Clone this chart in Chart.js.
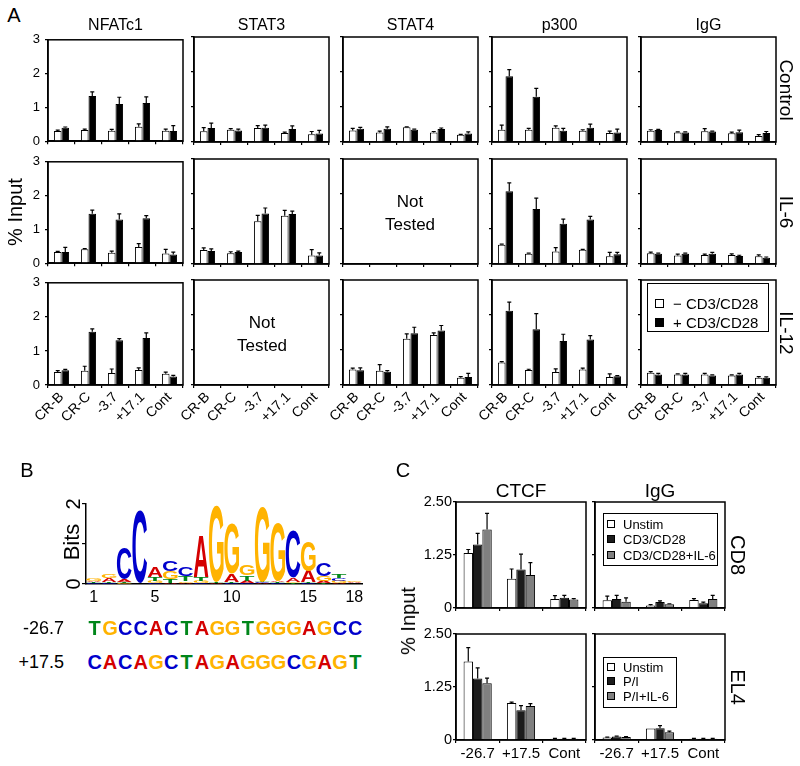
<!DOCTYPE html>
<html>
<head>
<meta charset="utf-8">
<script src="https://cdn.jsdelivr.net/npm/chart.js@4.4.1/dist/chart.umd.min.js"></script>
<style>
  body { margin: 0; background: #fff; }
  #fig { position: relative; width: 800px; height: 766px; overflow: hidden; background: #fff;
         font-family: "Liberation Sans", Arial, sans-serif; color: #000; }
  .box { position: absolute; }
  .lbl { position: absolute; white-space: nowrap; line-height: 1; }
  .legend { position: absolute; border: 1.5px solid #000; box-sizing: border-box; }
  .sq { position: absolute; border: 1px solid #000; box-sizing: border-box; }
</style>
</head>
<body>
<div id="fig"></div>
<script>
// ---------- Panel A data ----------
const aCategories = ['CR-B', 'CR-C', '-3.7', '+17.1', 'Cont'];
const aFactors = ['NFATc1', 'STAT3', 'STAT4', 'p300', 'IgG'];
const aConditions = ['Control', 'IL-6', 'IL-12'];
const aYTicks = [0, 1, 2, 3];
const aYLabels = ['0', '1', '2', '3'];
const aSeries = ['\u2212 CD3/CD28', '+ CD3/CD28'];

// Control
const nfatc1CtrlMinus = [0.30, 0.33, 0.31, 0.43, 0.31];
const nfatc1CtrlMinusErr = [0.03, 0.03, 0.04, 0.08, 0.05];
const nfatc1CtrlPlus = [0.40, 1.34, 1.10, 1.13, 0.30];
const nfatc1CtrlPlusErr = [0.02, 0.12, 0.20, 0.18, 0.16];
const stat3CtrlMinus = [0.31, 0.35, 0.40, 0.26, 0.22];
const stat3CtrlMinusErr = [0.10, 0.03, 0.07, 0.02, 0.08];
const stat3CtrlPlus = [0.40, 0.33, 0.41, 0.37, 0.24];
const stat3CtrlPlusErr = [0.14, 0.04, 0.07, 0.09, 0.09];
const stat4CtrlMinus = [0.33, 0.27, 0.42, 0.27, 0.21];
const stat4CtrlMinusErr = [0.06, 0.04, 0.01, 0.03, 0.01];
const stat4CtrlPlus = [0.38, 0.38, 0.35, 0.37, 0.24];
const stat4CtrlPlusErr = [0.04, 0.05, 0.02, 0.03, 0.05];
const p300CtrlMinus = [0.35, 0.35, 0.41, 0.32, 0.26];
const p300CtrlMinusErr = [0.13, 0.04, 0.05, 0.03, 0.05];
const p300CtrlPlus = [1.88, 1.29, 0.32, 0.41, 0.27];
const p300CtrlPlusErr = [0.19, 0.24, 0.07, 0.10, 0.10];
const iggCtrlMinus = [0.32, 0.27, 0.31, 0.25, 0.17];
const iggCtrlMinusErr = [0.03, 0.02, 0.07, 0.03, 0.04];
const iggCtrlPlus = [0.34, 0.27, 0.30, 0.28, 0.26];
const iggCtrlPlusErr = [0.02, 0.02, 0.01, 0.06, 0.04];

// IL-6
const nfatc1Il6Minus = [0.33, 0.41, 0.31, 0.48, 0.29];
const nfatc1Il6MinusErr = [0.02, 0.02, 0.05, 0.10, 0.12];
const nfatc1Il6Plus = [0.33, 1.46, 1.29, 1.33, 0.26];
const nfatc1Il6PlusErr = [0.14, 0.11, 0.17, 0.08, 0.07];
const stat3Il6Minus = [0.40, 0.31, 1.22, 1.38, 0.24];
const stat3Il6MinusErr = [0.06, 0.04, 0.17, 0.15, 0.17];
const stat3Il6Plus = [0.37, 0.34, 1.44, 1.43, 0.24];
const stat3Il6PlusErr = [0.06, 0.03, 0.16, 0.08, 0.08];
const p300Il6Minus = [0.55, 0.29, 0.36, 0.41, 0.22];
const p300Il6MinusErr = [0.02, 0.02, 0.11, 0.01, 0.11];
const p300Il6Plus = [2.08, 1.57, 1.15, 1.27, 0.28];
const p300Il6PlusErr = [0.24, 0.31, 0.13, 0.09, 0.05];
const iggIl6Minus = [0.31, 0.24, 0.26, 0.26, 0.22];
const iggIl6MinusErr = [0.03, 0.04, 0.02, 0.03, 0.04];
const iggIl6Plus = [0.29, 0.29, 0.29, 0.23, 0.18];
const iggIl6PlusErr = [0.02, 0.02, 0.04, 0.02, 0.02];

// IL-12
const nfatc1Il12Minus = [0.38, 0.42, 0.35, 0.44, 0.33];
const nfatc1Il12MinusErr = [0.04, 0.13, 0.12, 0.06, 0.05];
const nfatc1Il12Plus = [0.43, 1.56, 1.31, 1.38, 0.25];
const nfatc1Il12PlusErr = [0.03, 0.09, 0.05, 0.15, 0.03];
const stat4Il12Minus = [0.44, 0.41, 1.32, 1.43, 0.21];
const stat4Il12MinusErr = [0.04, 0.17, 0.14, 0.06, 0.03];
const stat4Il12Plus = [0.42, 0.38, 1.48, 1.56, 0.23];
const stat4Il12PlusErr = [0.07, 0.03, 0.17, 0.14, 0.10];
const p300Il12Minus = [0.64, 0.43, 0.37, 0.44, 0.23];
const p300Il12MinusErr = [0.03, 0.02, 0.09, 0.04, 0.09];
const p300Il12Plus = [2.12, 1.59, 1.26, 1.30, 0.25];
const p300Il12PlusErr = [0.25, 0.45, 0.19, 0.11, 0.02];
const iggIl12Minus = [0.35, 0.30, 0.30, 0.27, 0.21];
const iggIl12MinusErr = [0.03, 0.02, 0.03, 0.02, 0.03];
const iggIl12Plus = [0.30, 0.30, 0.27, 0.30, 0.21];
const iggIl12PlusErr = [0.03, 0.03, 0.02, 0.03, 0.02];

// ---------- Panel B data ----------
const logoXTicks = [1, 5, 10, 15, 18];
const logoYTicks = [0, 1, 2];
const logoYLabels = ['0', '', '2'];
const logoBases = ['A', 'C', 'G', 'T'];
// information (bits) per base at positions 1..18
const logoA = [0.03, 0.08, 0.06, 0.01, 0.26, 0.03, 0.03, 1.05, 0.02, 0.20, 0.05, 0.02, 0.04, 0.10, 0.28, 0.05, 0.03, 0.02];
const logoC = [0.02, 0.03, 0.78, 1.80, 0.02, 0.27, 0.22, 0.02, 0.01, 0.02, 0.03, 0.02, 0.02, 1.17, 0.02, 0.32, 0.07, 0.01];
const logoG = [0.05, 0.09, 0.03, 0.01, 0.06, 0.20, 0.04, 0.05, 1.90, 1.25, 0.27, 1.86, 1.46, 0.03, 0.77, 0.12, 0.05, 0.03];
const logoT = [0.02, 0.03, 0.03, 0.01, 0.09, 0.10, 0.12, 0.10, 0.02, 0.03, 0.14, 0.02, 0.03, 0.02, 0.02, 0.03, 0.08, 0.01];
const seqNames = ['-26.7', '+17.5'];
const seqMinus267 = 'TGCCACTAGGTGGGAGCC';
const seqPlus175 = 'CACAGCTAGAGGGCGAGT';

// ---------- Panel C data ----------
const cCategories = ['-26.7', '+17.5', 'Cont'];
const cYTicks = [0, 1.25, 2.5];
const cYLabels = ['0', '1.25', '2.50'];
const cd8Series = ['Unstim', 'CD3/CD28', 'CD3/CD28+IL-6'];
const el4Series = ['Unstim', 'P/I', 'P/I+IL-6'];

const ctcfCd8Unstim = [1.30, 0.69, 0.21];
const ctcfCd8UnstimErr = [0.08, 0.23, 0.08];
const ctcfCd8Stim = [1.50, 0.91, 0.24];
const ctcfCd8StimErr = [0.26, 0.36, 0.06];
const ctcfCd8Il6 = [1.85, 0.78, 0.20];
const ctcfCd8Il6Err = [0.38, 0.29, 0.02];
const iggCd8Unstim = [0.18, 0.06, 0.19];
const iggCd8UnstimErr = [0.10, 0.02, 0.03];
const iggCd8Stim = [0.21, 0.14, 0.11];
const iggCd8StimErr = [0.09, 0.03, 0.03];
const iggCd8Il6 = [0.15, 0.09, 0.21];
const iggCd8Il6Err = [0.09, 0.01, 0.09];

const ctcfEl4Unstim = [1.85, 0.875, 0.03];
const ctcfEl4UnstimErr = [0.33, 0.02, 0.01];
const ctcfEl4Pi = [1.45, 0.70, 0.03];
const ctcfEl4PiErr = [0.25, 0.11, 0.01];
const ctcfEl4PiIl6 = [1.34, 0.80, 0.03];
const ctcfEl4PiIl6Err = [0.12, 0.06, 0.01];
const iggEl4Unstim = [0.06, 0.27, 0.03];
const iggEl4UnstimErr = [0.01, 0.00, 0.01];
const iggEl4Pi = [0.08, 0.28, 0.03];
const iggEl4PiErr = [0.01, 0.06, 0.01];
const iggEl4PiIl6 = [0.07, 0.18, 0.03];
const iggEl4PiIl6Err = [0.01, 0.03, 0.01];

// ---------- setup ----------
const FONT = '"Liberation Sans", Arial, sans-serif';
Chart.defaults.font.family = FONT;
Chart.defaults.color = '#000';
Chart.defaults.animation = false;
const fig = document.getElementById('fig');

const baseColors = { A: '#d40000', C: '#0000cc', G: '#ffb300', T: '#00861a' };
const aColors = ['#ffffff', '#000000'];
const cColors = ['#ffffff', '#1c1c1c', '#808080'];

// draws the box round each plot area
const frame = {
    id: 'frame',
    afterDatasetsDraw(chart) {
        const a = chart.chartArea, ctx = chart.ctx;
        ctx.save();
        ctx.lineWidth = 1.5;
        ctx.strokeStyle = '#000';
        ctx.strokeRect(a.left, a.top, a.right - a.left, a.bottom - a.top);
        ctx.restore();
    }
};

// upward error bars with a small cap
const errorBars = {
    id: 'errorBars',
    afterDatasetsDraw(chart) {
        const ctx = chart.ctx, ys = chart.scales.y;
        ctx.save();
        ctx.strokeStyle = '#000';
        ctx.lineWidth = 1.2;
        chart.data.datasets.forEach((ds, i) => {
            chart.getDatasetMeta(i).data.forEach((bar, j) => {
                const v = ds.data[j], e = ds.errors[j];
                if (v == null || !e) return;
                const top = ys.getPixelForValue(v + e);
                ctx.beginPath();
                ctx.moveTo(bar.x, bar.y);
                ctx.lineTo(bar.x, top);
                ctx.moveTo(bar.x - 2, top);
                ctx.lineTo(bar.x + 2, top);
                ctx.stroke();
            });
        });
        ctx.restore();
    }
};

function addText(txt, x, y, size, rot, anchor) {
    const el = document.createElement('div');
    el.className = 'lbl';
    el.textContent = txt;
    el.style.left = x + 'px';
    el.style.top = y + 'px';
    el.style.fontSize = size + 'px';
    const tx = anchor === 'right' ? '-100%' : (anchor === 'left' ? '0' : '-50%');
    el.style.transform = 'translate(' + tx + ',-50%)' + (rot ? ' rotate(' + rot + 'deg)' : '');
    fig.appendChild(el);
    return el;
}

function addLegend(left, top, right, bottom, items, rowsY, sqX, sqSize, textX, size) {
    const box = document.createElement('div');
    box.className = 'legend';
    box.style.left = left + 'px';
    box.style.top = top + 'px';
    box.style.width = (right - left) + 'px';
    box.style.height = (bottom - top) + 'px';
    fig.appendChild(box);
    items.forEach((it, i) => {
        const sq = document.createElement('div');
        sq.className = 'sq';
        sq.style.left = sqX + 'px';
        sq.style.top = (rowsY[i] - sqSize / 2) + 'px';
        sq.style.width = sqSize + 'px';
        sq.style.height = sqSize + 'px';
        sq.style.background = it.color;
        fig.appendChild(sq);
        addText(it.label, textX, rowsY[i], size, 0, 'left');
    });
}

function makeSets(names, colors, values, errors) {
    return names.map((n, i) => ({
        label: n,
        data: values ? values[i] : [],
        errors: errors ? errors[i] : [],
        backgroundColor: colors[i],
        borderColor: '#000',
        borderWidth: 1
    }));
}

function barChart(o) {
    const padT = 10, padR = 6;
    const div = document.createElement('div');
    div.className = 'box';
    div.style.left = (o.left - o.yW) + 'px';
    div.style.top = (o.top - padT) + 'px';
    div.style.width = (o.yW + o.w + padR) + 'px';
    div.style.height = (padT + o.h + o.xH) + 'px';
    const cv = document.createElement('canvas');
    div.appendChild(cv);
    fig.appendChild(div);
    return new Chart(cv, {
        type: 'bar',
        data: { labels: o.labels, datasets: o.datasets },
        options: {
            responsive: true,
            maintainAspectRatio: false,
            events: [],
            layout: { padding: { top: padT, right: padR, left: 0, bottom: 0 } },
            plugins: { legend: { display: false }, tooltip: { enabled: false } },
            datasets: { bar: { categoryPercentage: o.catPct, barPercentage: 1 } },
            scales: {
                x: {
                    grid: { offset: true, drawOnChartArea: false, tickLength: 3, color: '#000', lineWidth: 1.2 },
                    border: { color: '#000', width: 1.5 },
                    ticks: {
                        display: o.showX, autoSkip: false, color: '#000',
                        font: { size: o.xFont }, minRotation: o.rot, maxRotation: o.rot, padding: o.xPad
                    },
                    afterFit(s) { s.height = o.xH; }
                },
                y: {
                    min: 0, max: o.yMax,
                    afterBuildTicks(s) { s.ticks = o.yTicks.map(v => ({ value: v })); },
                    grid: { drawOnChartArea: false, tickLength: 3, color: '#000', lineWidth: 1.2 },
                    border: { color: '#000', width: 1.5 },
                    ticks: {
                        display: o.showY, color: '#000', font: { size: o.yFont }, padding: o.yPad,
                        callback: (v, i) => o.yLabels[i]
                    },
                    afterFit(s) { s.width = o.yW; }
                }
            }
        },
        plugins: [errorBars, frame]
    });
}

// ---------- Panel A ----------
const aGrid = [
    [
        [[nfatc1CtrlMinus, nfatc1CtrlPlus], [nfatc1CtrlMinusErr, nfatc1CtrlPlusErr]],
        [[stat3CtrlMinus, stat3CtrlPlus], [stat3CtrlMinusErr, stat3CtrlPlusErr]],
        [[stat4CtrlMinus, stat4CtrlPlus], [stat4CtrlMinusErr, stat4CtrlPlusErr]],
        [[p300CtrlMinus, p300CtrlPlus], [p300CtrlMinusErr, p300CtrlPlusErr]],
        [[iggCtrlMinus, iggCtrlPlus], [iggCtrlMinusErr, iggCtrlPlusErr]]
    ],
    [
        [[nfatc1Il6Minus, nfatc1Il6Plus], [nfatc1Il6MinusErr, nfatc1Il6PlusErr]],
        [[stat3Il6Minus, stat3Il6Plus], [stat3Il6MinusErr, stat3Il6PlusErr]],
        null,
        [[p300Il6Minus, p300Il6Plus], [p300Il6MinusErr, p300Il6PlusErr]],
        [[iggIl6Minus, iggIl6Plus], [iggIl6MinusErr, iggIl6PlusErr]]
    ],
    [
        [[nfatc1Il12Minus, nfatc1Il12Plus], [nfatc1Il12MinusErr, nfatc1Il12PlusErr]],
        null,
        [[stat4Il12Minus, stat4Il12Plus], [stat4Il12MinusErr, stat4Il12PlusErr]],
        [[p300Il12Minus, p300Il12Plus], [p300Il12MinusErr, p300Il12PlusErr]],
        [[iggIl12Minus, iggIl12Plus], [iggIl12MinusErr, iggIl12PlusErr]]
    ]
];
const aColLeft = [48, 194, 343, 492, 641];
const aRowTop = [37, 159, 280];
const aW = 135, aH = 105;

aGrid.forEach((row, r) => {
    row.forEach((cell, c) => {
        const last = r === aGrid.length - 1;
        barChart({
            left: aColLeft[c], top: aRowTop[r], w: aW, h: aH,
            yW: 40, xH: last ? 60 : 12,
            labels: aCategories,
            datasets: makeSets(aSeries, aColors, cell ? cell[0] : null, cell ? cell[1] : null),
            catPct: 0.56, yMax: 3, yTicks: aYTicks, yLabels: aYLabels,
            showY: c === 0, yFont: 13, yPad: 5,
            showX: last, xFont: 14, rot: 45, xPad: 1
        });
    });
});

addText('A', 14, 15, 20);
aFactors.forEach((f, c) => addText(f, aColLeft[c] + aW / 2, 25, 16));
aConditions.forEach((n, r) => addText(n, 786, aRowTop[r] + aH / 2, 19, 90));
addText('% Input', 15, 212, 20, -90);
[[410, 213], [262, 334]].forEach(p => {
    const el = addText('', p[0], p[1], 17);
    el.innerHTML = 'Not<br>Tested';
    el.style.textAlign = 'center';
    el.style.lineHeight = '23px';
});
addLegend(647, 283, 769, 332,
    aSeries.map((s, i) => ({ label: s, color: aColors[i] })),
    [303, 322], 655, 9, 673, 15);

// ---------- Panel B (sequence logo) ----------
function drawGlyph(ctx, ch, color, x0, y0, w, h) {
    if (h < 0.4) return;
    ctx.save();
    ctx.font = 'bold 100px ' + FONT;
    const m = ctx.measureText(ch);
    const gw = m.actualBoundingBoxLeft + m.actualBoundingBoxRight;
    const gh = m.actualBoundingBoxAscent + m.actualBoundingBoxDescent;
    ctx.translate(x0, y0);
    ctx.scale(w / gw, h / gh);
    ctx.fillStyle = color;
    ctx.textAlign = 'left';
    ctx.textBaseline = 'alphabetic';
    ctx.fillText(ch, m.actualBoundingBoxLeft, m.actualBoundingBoxAscent);
    ctx.restore();
}

const logoLetters = {
    id: 'logoLetters',
    afterDatasetsDraw(chart) {
        const ctx = chart.ctx, xs = chart.scales.x, ys = chart.scales.y;
        const heights = [logoA, logoC, logoG, logoT];
        const w = xs.getPixelForValue(1.5) - xs.getPixelForValue(0.5);
        for (let i = 0; i < logoA.length; i++) {
            const stack = logoBases.map((b, k) => ({ ch: b, h: heights[k][i] }))
                .sort((p, q) => p.h - q.h);
            const xc = xs.getPixelForValue(i + 1);
            let cum = 0;
            stack.forEach(s => {
                const yb = ys.getPixelForValue(cum), yt = ys.getPixelForValue(cum + s.h);
                drawGlyph(ctx, s.ch, baseColors[s.ch], xc - w / 2 + 0.3, yt, w - 0.6, yb - yt);
                cum += s.h;
            });
        }
    }
};

(function () {
    const left = 86, top = 502, w = 276, h = 82, yW = 30, padT = 12, padR = 8, xH = 26;
    const div = document.createElement('div');
    div.className = 'box';
    div.style.left = (left - yW) + 'px';
    div.style.top = (top - padT) + 'px';
    div.style.width = (yW + w + padR) + 'px';
    div.style.height = (padT + h + xH) + 'px';
    const cv = document.createElement('canvas');
    div.appendChild(cv);
    fig.appendChild(div);
    new Chart(cv, {
        type: 'scatter',
        data: { datasets: [] },
        options: {
            responsive: true, maintainAspectRatio: false, events: [],
            layout: { padding: { top: padT, right: padR, left: 0, bottom: 0 } },
            plugins: { legend: { display: false }, tooltip: { enabled: false } },
            scales: {
                x: {
                    type: 'linear', min: 0.5, max: 18.5,
                    afterBuildTicks(s) { s.ticks = logoXTicks.map(v => ({ value: v })); },
                    grid: { drawOnChartArea: false, drawTicks: false },
                    border: { color: '#000', width: 1.5 },
                    ticks: { color: '#000', font: { size: 16 }, padding: 4, maxRotation: 0 },
                    afterFit(s) { s.height = xH; }
                },
                y: {
                    type: 'linear', min: 0, max: 2,
                    afterBuildTicks(s) { s.ticks = logoYTicks.map(v => ({ value: v })); },
                    grid: { drawOnChartArea: false, tickLength: 4, color: '#000', lineWidth: 1.2 },
                    border: { color: '#000', width: 1.5 },
                    ticks: {
                        color: '#000', font: { size: 20 }, padding: 2,
                        minRotation: 90, maxRotation: 90, crossAlign: 'center',
                        callback: (v, i) => logoYLabels[i]
                    },
                    afterFit(s) { s.width = yW; }
                }
            }
        },
        plugins: [logoLetters]
    });
})();

addText('B', 27, 470, 20);
addText('Bits', 72, 542, 22, -90);
[seqMinus267, seqPlus175].forEach((seq, r) => {
    const y = [628, 662][r];
    addText(seqNames[r], 64, y, 18, 0, 'right');
    seq.split('').forEach((ch, i) => {
        const el = addText(ch, 87 + (i + 0.5) * 15.33, y, 20);
        el.style.fontWeight = 'bold';
        el.style.color = baseColors[ch];
    });
});

// ---------- Panel C ----------
const cGrid = [
    [
        [[ctcfCd8Unstim, ctcfCd8Stim, ctcfCd8Il6], [ctcfCd8UnstimErr, ctcfCd8StimErr, ctcfCd8Il6Err]],
        [[iggCd8Unstim, iggCd8Stim, iggCd8Il6], [iggCd8UnstimErr, iggCd8StimErr, iggCd8Il6Err]]
    ],
    [
        [[ctcfEl4Unstim, ctcfEl4Pi, ctcfEl4PiIl6], [ctcfEl4UnstimErr, ctcfEl4PiErr, ctcfEl4PiIl6Err]],
        [[iggEl4Unstim, iggEl4Pi, iggEl4PiIl6], [iggEl4UnstimErr, iggEl4PiErr, iggEl4PiIl6Err]]
    ]
];
const cSeriesNames = [cd8Series, el4Series];
const cColLeft = [456, 595];
const cRowTop = [502, 634];
const cW = 130, cH = 106;

cGrid.forEach((row, r) => {
    row.forEach((cell, c) => {
        const last = r === cGrid.length - 1;
        barChart({
            left: cColLeft[c], top: cRowTop[r], w: cW, h: cH,
            yW: 45, xH: last ? 26 : 12,
            labels: cCategories,
            datasets: makeSets(cSeriesNames[r], cColors, cell[0], cell[1]),
            catPct: 0.65, yMax: 2.5, yTicks: cYTicks, yLabels: cYLabels,
            showY: c === 0, yFont: 14.5, yPad: 1,
            showX: last, xFont: 15, rot: 0, xPad: 2
        });
    });
});

addText('C', 403, 470, 20);
addText('CTCF', cColLeft[0] + cW / 2, 490, 19);
addText('IgG', cColLeft[1] + cW / 2, 490, 19);
addText('CD8', 738, cRowTop[0] + cH / 2, 20, 90);
addText('EL4', 738, cRowTop[1] + cH / 2, 20, 90);
addText('% Input', 408, 621, 20, -90);
addLegend(603, 513, 718, 566,
    cd8Series.map((s, i) => ({ label: s, color: cColors[i] })),
    [524, 539, 555], 607, 8, 623, 13);
addLegend(603, 657, 677, 708,
    el4Series.map((s, i) => ({ label: s, color: cColors[i] })),
    [667, 681, 696], 607, 8, 623, 13);
</script>
</body>
</html>
